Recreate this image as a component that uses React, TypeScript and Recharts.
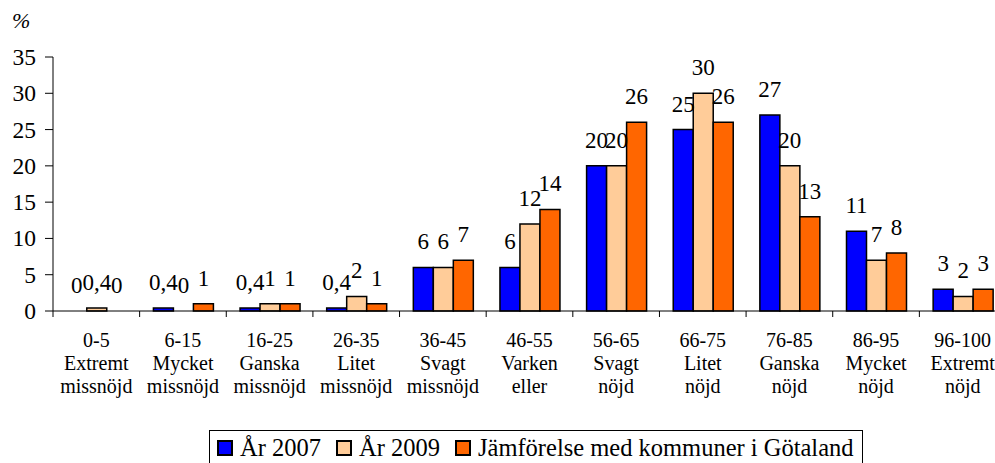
import { BarChart, Bar, XAxis, YAxis, LabelList, Legend, Rectangle } from "recharts";

document.body.style.margin = "0";

const FONT = "'Liberation Serif', 'Times New Roman', serif";

const ranges = ["0-5", "6-15", "16-25", "26-35", "36-45", "46-55", "56-65", "66-75", "76-85", "86-95", "96-100"];
const words1 = ["Extremt", "Mycket", "Ganska", "Litet", "Svagt", "Varken", "Svagt", "Litet", "Ganska", "Mycket", "Extremt"];
const words2 = ["missnöjd", "missnöjd", "missnöjd", "missnöjd", "missnöjd", "eller", "nöjd", "nöjd", "nöjd", "nöjd", "nöjd"];

const ar2007 = [0, 0.4, 0.4, 0.4, 6, 6, 20, 25, 27, 11, 3];
const ar2009 = [0.4, 0, 1, 2, 6, 12, 20, 30, 20, 7, 2];
const gotaland = [0, 1, 1, 1, 7, 14, 26, 26, 13, 8, 3];

const yTicks = [0, 5, 10, 15, 20, 25, 30, 35];

const series = [
  { key: "a2007", name: "År 2007", color: "#0000FF" },
  { key: "a2009", name: "År 2009", color: "#FFCC99" },
  { key: "gotaland", name: "Jämförelse med kommuner i Götaland", color: "#FF6600" },
];

const data = ranges.map((r, i) => ({
  name: r,
  a2007: ar2007[i],
  a2009: ar2009[i],
  gotaland: gotaland[i],
}));

const CHART_W = 1006;
const Y_W = 53;
const BAND = (CHART_W - Y_W) / ranges.length;

function CategoryTick(props: any) {
  const { x, y, payload, index } = props;
  const i = index ?? ranges.indexOf(payload.value);
  const lines = [ranges[i], words1[i], words2[i]];
  return (
    <g>
      <line x1={x - BAND / 2} y1={y - 8} x2={x - BAND / 2} y2={y - 2} stroke="#000" />
      {lines.map((t, k) => (
        <text
          key={k}
          x={x}
          y={y + 28 + k * 23}
          textAnchor="middle"
          style={{ fontFamily: FONT, fontSize: 20, fill: "#000" }}
        >
          {t}
        </text>
      ))}
    </g>
  );
}

function YTick(props: any) {
  const { x, y, payload } = props;
  return (
    <text
      x={x - 6}
      y={y + 8}
      textAnchor="end"
      style={{ fontFamily: FONT, fontSize: 23.5, fill: "#000" }}
    >
      {payload.value}
    </text>
  );
}

function BarShape(props: any) {
  if (!props.value) return null;
  return <Rectangle {...props} />;
}

function ValueLabel(props: any) {
  const { x, y, width, value } = props;
  return (
    <text
      x={x + width / 2}
      y={y - 18}
      textAnchor="middle"
      style={{ fontFamily: FONT, fontSize: 23, fill: "#000" }}
    >
      {String(value).replace(".", ",")}
    </text>
  );
}

function LegendBox() {
  return (
    <div
      style={{
        display: "flex",
        alignItems: "center",
        border: "1px solid #000",
        padding: "4px 8px 10px 7px",
        fontFamily: FONT,
        fontSize: 24.5,
        lineHeight: "26px",
        whiteSpace: "nowrap",
        background: "#fff",
      }}
    >
      {series.map((s, i) => (
        <div
          key={s.key}
          style={{ display: "flex", alignItems: "center", marginRight: i < series.length - 1 ? 15 : 0 }}
        >
          <span
            style={{
              display: "inline-block",
              width: 12,
              height: 12,
              background: s.color,
              border: "2px solid #000",
              marginRight: 7,
            }}
          />
          <span>{s.name}</span>
        </div>
      ))}
    </div>
  );
}

export default function App() {
  return (
    <div
      style={{
        width: 995,
        height: 463,
        position: "relative",
        background: "#fff",
        overflow: "hidden",
        fontFamily: FONT,
      }}
    >
      <BarChart
        width={CHART_W}
        height={463}
        data={data}
        margin={{ top: 57, right: 0, bottom: 77, left: 0 }}
        barCategoryGap="15.9%"
        barGap={0}
        style={{ fontFamily: FONT }}
      >
        <XAxis
          dataKey="name"
          height={75}
          interval={0}
          tickLine={false}
          axisLine={{ stroke: "#000" }}
          tick={<CategoryTick />}
        />
        <YAxis
          width={Y_W}
          domain={[0, 35]}
          ticks={yTicks}
          interval={0}
          tickSize={8}
          tickMargin={3}
          axisLine={{ stroke: "#000" }}
          tickLine={{ stroke: "#000" }}
          tick={<YTick />}
          label={{
            content: () => (
              <text
                x={12}
                y={28}
                style={{ fontFamily: FONT, fontSize: 22, fontStyle: "italic", fill: "#000" }}
              >
                %
              </text>
            ),
          }}
        />
        <Legend
          layout="horizontal"
          verticalAlign="middle"
          align="center"
          wrapperStyle={{ left: 209, top: 430, width: "auto", height: "auto" }}
          content={() => <LegendBox />}
        />
        {series.map((s) => (
          <Bar
            key={s.key}
            dataKey={s.key}
            name={s.name}
            fill={s.color}
            stroke="#000"
            strokeWidth={1.5}
            minPointSize={0.01}
            shape={<BarShape />}
            isAnimationActive={false}
          >
            <LabelList dataKey={s.key} content={<ValueLabel />} />
          </Bar>
        ))}
      </BarChart>
    </div>
  );
}
